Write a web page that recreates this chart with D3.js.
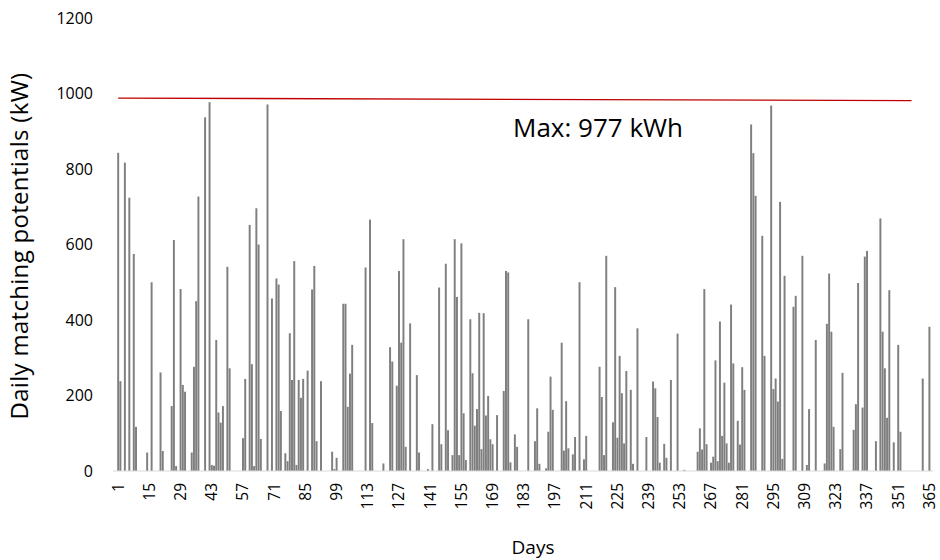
<!DOCTYPE html>
<html><head><meta charset="utf-8">
<script src="https://cdn.jsdelivr.net/npm/d3@7"></script>
<style>
body{margin:0;background:#fff}
svg text{font-family:"Open Sans",sans-serif;fill:#000}
</style>
</head><body><svg id="chart" width="940" height="560"></svg>
<script>
// Daily matching potentials, one value per day (1..365)
const values = [
  843,238,0,817,0,724,0,575,117,0,0,0,0,49,
  0,500,0,0,0,261,53,0,0,0,172,612,13,0,
  482,228,210,0,0,49,276,450,727,0,0,937,0,977,
  16,14,347,155,128,172,0,541,272,0,0,0,0,0,
  87,244,0,652,283,13,696,600,85,0,0,971,0,457,
  0,510,494,159,0,47,26,365,241,556,16,241,194,244,
  0,266,0,481,543,79,0,238,0,0,0,0,51,5,
  35,0,0,443,443,170,258,334,0,0,0,0,0,539,
  0,666,127,0,0,0,0,20,0,0,328,290,0,226,
  530,340,614,64,0,391,0,0,254,49,0,0,0,5,
  0,124,0,0,486,71,0,549,108,0,42,614,461,42,
  603,153,29,0,402,259,120,164,419,58,418,147,199,84,
  71,0,148,0,0,212,530,526,23,0,97,64,0,0,
  0,0,402,0,0,79,166,19,0,0,7,104,250,162,
  0,0,0,340,54,185,60,0,44,90,0,500,0,31,
  93,0,0,0,0,0,276,196,42,570,0,0,129,487,
  88,305,206,73,265,0,215,19,0,378,0,0,0,90,
  0,0,237,219,143,22,0,72,35,0,241,0,0,364,
  0,0,3,0,0,0,0,0,51,113,57,482,71,0,
  22,38,293,26,396,93,234,73,22,441,285,0,133,70,
  275,215,0,0,918,842,729,0,0,623,305,0,0,968,
  217,245,184,713,32,517,0,0,0,435,464,0,0,570,
  0,16,164,0,0,347,0,0,0,20,390,523,369,117,
  0,0,58,260,0,0,0,0,109,177,498,0,168,568,
  583,0,0,0,79,0,669,369,272,141,479,0,76,0,
  334,104,0,0,0,0,0,0,0,0,0,245,0,0,
  382
];
const days = d3.range(1, values.length + 1);
const xTickDays = d3.range(1, 366, 14);
const yTicks = [0, 200, 400, 600, 800, 1000, 1200];
const maxLineDays = [1, 357];
const maxLineValues = [988, 981];
const maxLabel = "Max: 977 kWh";
const yTitle = "Daily matching potentials (kW)";
const xTitle = "Days";

const svg = d3.select("#chart");
const x = d3.scaleBand().domain(days).range([117.2, 930.4]).paddingInner(0.12).paddingOuter(0);
const y = d3.scaleLinear().domain([0, 1200]).range([471, 18]);
const cx = d => x(d) + x.bandwidth() / 2;

// bars
svg.append("g").selectAll("rect").data(days.filter((d,i)=>values[i]>0)).join("rect")
  .attr("x", d => x(d))
  .attr("width", x.bandwidth())
  .attr("y", d => y(values[d-1]))
  .attr("height", d => y(0) - y(values[d-1]))
  .attr("fill", "#7f7f7f");

// baseline
svg.append("line").attr("x1", 113).attr("x2", 933).attr("y1", y(0)).attr("y2", y(0))
  .attr("stroke", "#d9d9d9").attr("stroke-width", 1);

// max line
svg.append("line")
  .attr("x1", cx(maxLineDays[0])).attr("x2", cx(maxLineDays[1]))
  .attr("y1", y(maxLineValues[0])).attr("y2", y(maxLineValues[1]))
  .attr("stroke", "#c00000").attr("stroke-width", 1.3);

svg.append("text").attr("x", 513).attr("y", 137).attr("font-size", 26).text(maxLabel);

// y axis labels
const yAxis = d3.axisLeft(y).tickValues(yTicks).tickFormat(d3.format("d")).tickSize(0).tickPadding(0);
const gy = svg.append("g").attr("transform", "translate(93,0)").call(yAxis);
gy.select(".domain").remove();
gy.selectAll("text").attr("font-size", 16).attr("font-family", '"Open Sans",sans-serif').attr("fill", "#000");

// x axis labels
const xAxis = d3.axisBottom(x).tickValues(xTickDays).tickSize(0).tickPadding(0);
const gx = svg.append("g").attr("transform", `translate(0,${y(0)})`).call(xAxis);
gx.select(".domain").remove();
gx.selectAll("text")
  .attr("font-size", 15.5).attr("font-family", '"Open Sans",sans-serif').attr("fill", "#000")
  .attr("text-anchor", "end")
  .attr("transform", "rotate(-90)")
  .attr("x", -12).attr("y", 0).attr("dy", "0.35em");

// titles
svg.append("text").attr("transform", "translate(28,246) rotate(-90)")
  .attr("text-anchor", "middle").attr("font-size", 24).attr("letter-spacing", 0.3).text(yTitle);
svg.append("text").attr("x", 533).attr("y", 554)
  .attr("text-anchor", "middle").attr("font-size", 19).text(xTitle);
</script>
</body></html>
